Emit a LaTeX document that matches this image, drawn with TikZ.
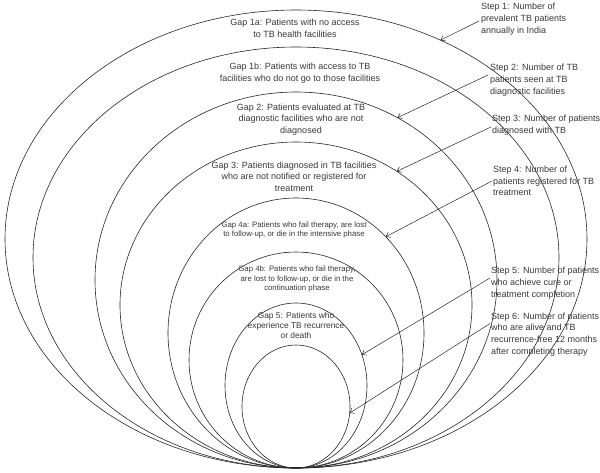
\documentclass[tikz,border=0pt]{standalone}
\usepackage{fontspec}
\setmainfont{Liberation Sans}
\usetikzlibrary{shapes.geometric,arrows.meta}
\begin{document}
\begin{tikzpicture}[x=1pt,y=-1pt,
  ring/.style={draw=black!85, line width=0.6pt, ellipse, inner sep=0pt, outer sep=0pt},
  gaptext/.style={text=black!78, align=center, inner sep=0pt, font=\fontsize{9}{11.5}\selectfont},
  gapsmall/.style={text=black!78, align=center, inner sep=0pt, font=\fontsize{7.8}{9.8}\selectfont},
  steptext/.style={text=black!78, align=left, anchor=west, inner sep=0pt, font=\fontsize{9}{11.7}\selectfont},
  pointer/.style={draw=black!85, line width=0.5pt, -{Straight Barb[length=4pt,width=6pt]}}]
\useasboundingbox (0,0) rectangle (600,472);
% nested rings, all touching at the bottom
\node[ring, minimum width=582pt, minimum height=458pt] (e1) at (296,239) {};
\node[ring, minimum width=526pt, minimum height=421pt] (e2) at (296,257.5) {};
\node[ring, minimum width=402pt, minimum height=376pt] (e3) at (296,280) {};
\node[ring, minimum width=352pt, minimum height=326pt] (e4) at (296,305) {};
\node[ring, minimum width=256pt, minimum height=270pt] (e5) at (296,333) {};
\node[ring, minimum width=214pt, minimum height=216pt] (e6) at (296,360) {};
\node[ring, minimum width=142pt, minimum height=165pt] (e7) at (296,385.5) {};
\node[ring, minimum width=108pt, minimum height=123pt] (e8) at (296,406.5) {};
% gap labels
\node[gaptext] (g1a) at (295,28.5) {Gap 1a: Patients with no access\\to TB health facilities};
\node[gaptext] (g1b) at (300,73) {Gap 1b: Patients with access to TB\\facilities who do not go to those facilities};
\node[gaptext] (g2) at (301,119.5) {Gap 2: Patients evaluated at TB\\diagnostic facilities who are not\\diagnosed};
\node[gaptext] (g3) at (294,176.5) {Gap 3: Patients diagnosed in TB facilities\\who are not notified or registered for\\treatment};
\node[gapsmall] (g4a) at (294,230) {Gap 4a: Patients who fail therapy, are lost\\to follow-up, or die in the intensive phase};
\node[gapsmall] (g4b) at (297,279) {Gap 4b: Patients who fail therapy,\\are lost to follow-up, or die in the\\continuation phase};
\node[gapsmall, font=\fontsize{8.4}{10}\selectfont] (g5) at (296,325) {Gap 5: Patients who\\experience TB recurrence\\or death};
% step labels
\node[steptext] (s1) at (481,19) {Step 1: Number of\\prevalent TB patients\\annually in India};
\node[steptext] (s2) at (490,80) {Step 2: Number of TB\\patients seen at TB\\diagnostic facilities};
\node[steptext] (s3) at (492,125.5) {Step 3: Number of patients\\diagnosed with TB};
\node[steptext] (s4) at (493,181) {Step 4: Number of\\patients registered for TB\\treatment};
\node[steptext] (s5) at (491,283) {Step 5: Number of patients\\who achieve cure or\\treatment completion};
\node[steptext] (s6) at (491,334.5) {Step 6: Number of patients\\who are alive and TB\\recurrence-free 12 months\\after completing therapy};
% pointers
\draw[pointer] ([xshift=-2pt,yshift=-2pt]s1.west) -- (e1.54);
\draw[pointer] ([xshift=-2pt,yshift=5pt]s2.west) -- (e3.58);
\draw[pointer] ([xshift=-1pt,yshift=-1.5pt]s3.west) -- (e4.53.5);
\draw[pointer] ([xshift=-1pt]s4.west) -- (e5.47);
\draw[pointer] ([xshift=-1pt,yshift=5pt]s5.west) -- (e7.25);
\draw[pointer] ([xshift=-1pt,yshift=11pt]s6.west) -- (e8.-7);
\end{tikzpicture}
\end{document}
